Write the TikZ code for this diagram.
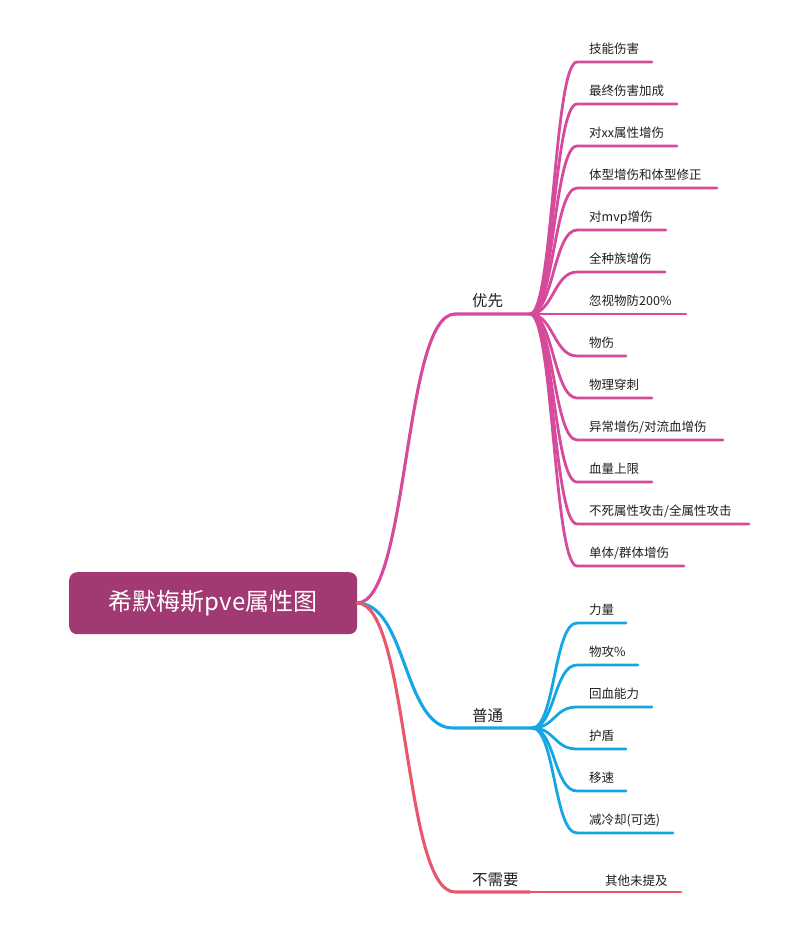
\documentclass[tikz,border=0pt]{standalone}
\usepackage{fontspec}
\setmainfont{Noto Sans CJK SC}
\definecolor{cpink}{RGB}{214,74,156}
\definecolor{cblue}{RGB}{22,166,228}
\definecolor{cred}{RGB}{233,88,106}
\definecolor{croot}{RGB}{161,58,114}
\definecolor{ctext}{RGB}{30,30,30}
\tikzset{
  leaftext/.style={inner sep=0pt, text=ctext, font=\fontsize{12.5}{14}\selectfont},
  branchtext/.style={inner sep=0pt, text=ctext, font=\fontsize{15.5}{17}\selectfont},
  roottext/.style={inner sep=0pt, text=white, font=\fontsize{24}{26}\selectfont},
  leafline/.style={line width=2.8pt, line cap=round},
  branchline/.style={line width=3.1pt, line cap=round},
}
% \mmleaf{color}{parent}{name}{y}{endx}{text}
\newcommand\mmleaf[6]{%
  \coordinate (#3-s) at (577,#4);
  \coordinate (#3-e) at (#5,#4);
  \node[leaftext, anchor=base west] (#3) at (589,{#4-9}) {#6};
  \draw[#1, leafline] (#2) .. controls +(23,0) and +(-23,0) .. (#3-s) -- (#3-e);
}
\begin{document}
\begin{tikzpicture}[x=1pt,y=-1pt]
\useasboundingbox (0,0) rectangle (805,930);
% root
\node[fill=croot, rounded corners=8pt, minimum width=288pt, minimum height=62pt, inner sep=0pt, anchor=north west] (rootbox) at (69,572) {};
\node[roottext] (root) at (rootbox.center) {希默梅斯pve属性图};
\coordinate (r0) at (357,603);
% branch 1
\coordinate (b1s) at (455,314);
\coordinate (b1e) at (530,314);
\node[branchtext, anchor=base west] (b1) at (472,306) {优先};
\draw[cpink, branchline] (r0) .. controls +(52,0) and +(-52,0) .. (b1s) -- (b1e);
% branch 2
\coordinate (b2s) at (453,728);
\coordinate (b2e) at (532,728);
\node[branchtext, anchor=base west] (b2) at (472,721) {普通};
\draw[cblue, branchline] (r0) .. controls +(50,0) and +(-50,0) .. (b2s) -- (b2e);
% branch 3
\coordinate (b3s) at (455,892);
\coordinate (b3e) at (530,892);
\node[branchtext, anchor=base west] (b3) at (472,885) {不需要};
\draw[cred, branchline] (r0) .. controls +(52,0) and +(-52,0) .. (b3s) -- (b3e);
% leaves of 优先
\mmleaf{cpink}{b1e}{p1}{62}{652}{技能伤害}
\mmleaf{cpink}{b1e}{p2}{104}{677}{最终伤害加成}
\mmleaf{cpink}{b1e}{p3}{146}{677}{对xx属性增伤}
\mmleaf{cpink}{b1e}{p4}{188}{717}{体型增伤和体型修正}
\mmleaf{cpink}{b1e}{p5}{230}{666}{对mvp增伤}
\mmleaf{cpink}{b1e}{p6}{272}{665}{全种族增伤}
\mmleaf{cpink}{b1e}{p7}{314}{686}{忽视物防200\%}
\mmleaf{cpink}{b1e}{p8}{356}{626}{物伤}
\mmleaf{cpink}{b1e}{p9}{398}{652}{物理穿刺}
\mmleaf{cpink}{b1e}{p10}{440}{723}{异常增伤/对流血增伤}
\mmleaf{cpink}{b1e}{p11}{482}{652}{血量上限}
\mmleaf{cpink}{b1e}{p12}{524}{749}{不死属性攻击/全属性攻击}
\mmleaf{cpink}{b1e}{p13}{566}{684}{单体/群体增伤}
% leaves of 普通
\mmleaf{cblue}{b2e}{q1}{623}{626}{力量}
\mmleaf{cblue}{b2e}{q2}{665}{638}{物攻\%}
\mmleaf{cblue}{b2e}{q3}{707}{652}{回血能力}
\mmleaf{cblue}{b2e}{q4}{749}{626}{护盾}
\mmleaf{cblue}{b2e}{q5}{791}{626}{移速}
\mmleaf{cblue}{b2e}{q6}{833}{673}{减冷却(可选)}
% leaf of 不需要
\coordinate (s1-e) at (681,892);
\node[leaftext, anchor=base west] (s1) at (605,885) {其他未提及};
\draw[cred, leafline] (b3e) -- (s1-e);
\end{tikzpicture}
\end{document}
